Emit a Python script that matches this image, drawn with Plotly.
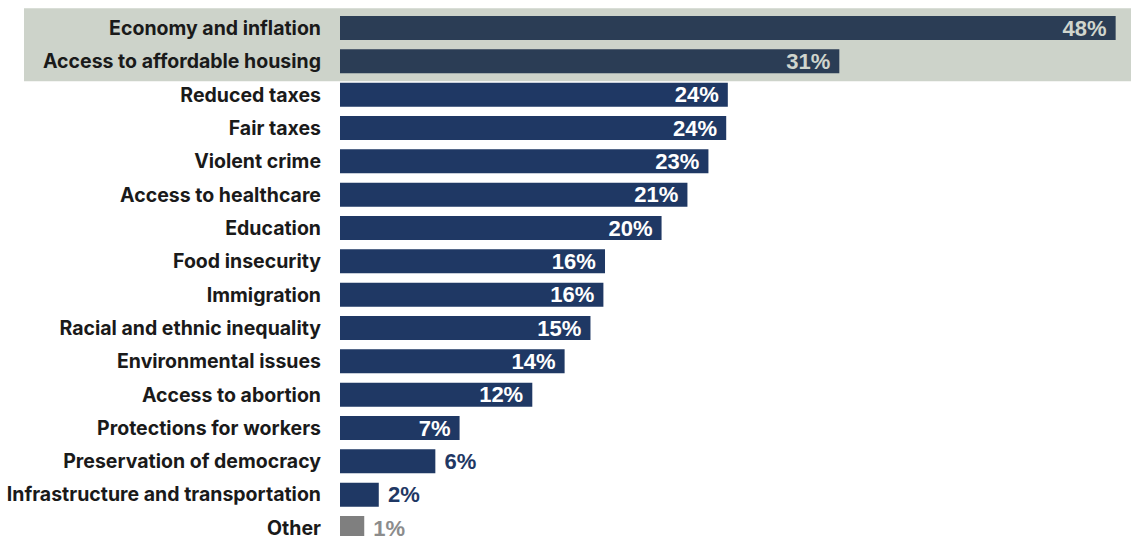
import plotly.graph_objects as go

categories = [
    "Economy and inflation",
    "Access to affordable housing",
    "Reduced taxes",
    "Fair taxes",
    "Violent crime",
    "Access to healthcare",
    "Education",
    "Food insecurity",
    "Immigration",
    "Racial and ethnic inequality",
    "Environmental issues",
    "Access to abortion",
    "Protections for workers",
    "Preservation of democracy",
    "Infrastructure and transportation",
    "Other",
]
values = [48.0, 30.9, 24.0, 23.9, 22.8, 21.5, 19.9, 16.4, 16.3, 15.5, 13.9, 11.9, 7.4, 5.9, 2.4, 1.5]
value_labels = ["48%", "31%", "24%", "24%", "23%", "21%", "20%", "16%", "16%", "15%",
                "14%", "12%", "7%", "6%", "2%", "1%"]
highlighted = ["Economy and inflation", "Access to affordable housing"]
outside_labels = ["Preservation of democracy", "Infrastructure and transportation", "Other"]

NAVY = "#1F3864"
SLATE = "#2B3D55"
GRAY = "#7F7F7F"
BAND = "#CDD3CA"
HILITE_TXT = "#D0D5CD"

bar_colors, text_colors, positions, texts = [], [], [], []
for c, lab in zip(categories, value_labels):
    if c == "Other":
        bar_colors.append(GRAY)
        text_colors.append("#8C8C8C")
    elif c in highlighted:
        bar_colors.append(SLATE)
        text_colors.append(HILITE_TXT)
    else:
        bar_colors.append(NAVY)
        text_colors.append("white" if c not in outside_labels else NAVY)
    if c in outside_labels:
        positions.append("outside")
        texts.append("\u00a0" + lab)
    else:
        positions.append("inside")
        texts.append(lab + "\u00a0")

fig = go.Figure()
fig.add_trace(go.Bar(
    x=values,
    y=categories,
    orientation="h",
    marker=dict(color=bar_colors, line=dict(width=0)),
    text=texts,
    textposition=positions,
    insidetextanchor="end",
    constraintext="none",
    textfont=dict(family="Liberation Sans, Arial, sans-serif", size=22,
                  color=text_colors, weight="bold"),
    hoverinfo="skip",
    cliponaxis=True,
))

fig.add_shape(
    type="rect", xref="paper", yref="y",
    x0=-0.3995, x1=1.0, y0=-0.593, y1=1.595,
    fillcolor=BAND, line=dict(width=0), layer="below",
)

fig.update_layout(
    width=1131, height=540,
    margin=dict(l=340, r=0, t=0, b=0),
    paper_bgcolor="white",
    plot_bgcolor="white",
    bargap=0.28,
    showlegend=False,
    hovermode=False,
    xaxis=dict(range=[0, 48.95], visible=False, fixedrange=True),
    yaxis=dict(
        type="category",
        categoryorder="array",
        categoryarray=categories,
        range=[15.24, -0.841],
        showgrid=False,
        zeroline=False,
        showline=False,
        ticks="",
        fixedrange=True,
        ticklabelstandoff=18,
        tickfont=dict(family="Inter, sans-serif", size=19.5, color="#1A1A1A", weight="bold"),
    ),
)

fig.write_html(
    "out.html",
    config={"displayModeBar": False, "staticPlot": True},
    post_script="document.body.style.margin='0';document.body.style.overflow='hidden';",
)
